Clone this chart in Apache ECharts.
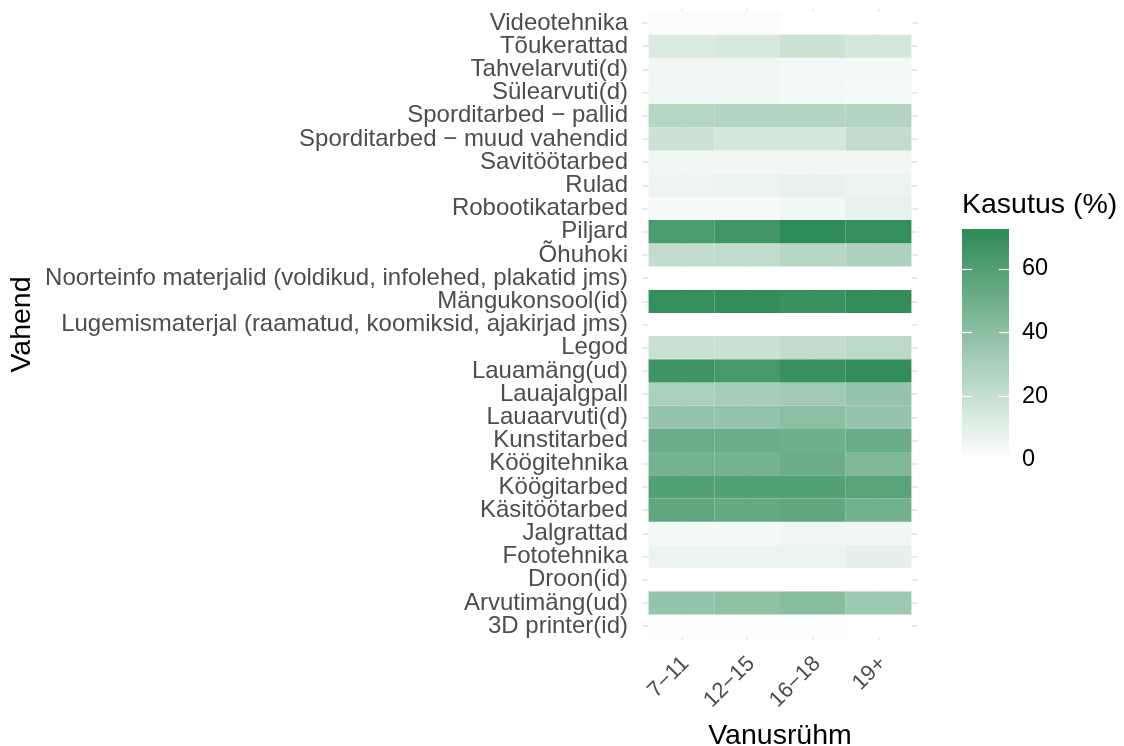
<!DOCTYPE html>
<html>
<head>
<meta charset="utf-8">
<script src="https://cdn.jsdelivr.net/npm/echarts@6/dist/echarts.min.js"></script>
<style>
  html, body { margin: 0; padding: 0; background: #ffffff; }
  #chart { width: 1124px; height: 746px; }
</style>
</head>
<body>
<div id="chart"></div>
<script>
// Age groups (columns)
const ageGroups = ['7\u221211', '12\u221215', '16\u221218', '19+'];

// Items, listed from the bottom row to the top row
const items = [
  '3D printer(id)',
  'Arvutimäng(ud)',
  'Droon(id)',
  'Fototehnika',
  'Jalgrattad',
  'Käsitöötarbed',
  'Köögitarbed',
  'Köögitehnika',
  'Kunstitarbed',
  'Lauaarvuti(d)',
  'Lauajalgpall',
  'Lauamäng(ud)',
  'Legod',
  'Lugemismaterjal (raamatud, koomiksid, ajakirjad jms)',
  'Mängukonsool(id)',
  'Noorteinfo materjalid (voldikud, infolehed, plakatid jms)',
  'Õhuhoki',
  'Piljard',
  'Robootikatarbed',
  'Rulad',
  'Savitöötarbed',
  'Sporditarbed \u2212 muud vahendid',
  'Sporditarbed \u2212 pallid',
  'Sülearvuti(d)',
  'Tahvelarvuti(d)',
  'Tõukerattad',
  'Videotehnika'
];

// Usage (%) per age group, same order as items
const usage7to11  = [1, 37, 0, 7, 4, 55, 59, 48, 51, 36, 29, 67, 19, 0, 70, 0, 21, 62, 3, 6, 5, 18, 25, 5, 5, 13, 2];
const usage12to15 = [1, 39, 0, 7, 4, 54, 59, 48, 51, 37, 31, 64, 19, 0, 71, 0, 22, 66, 3, 7, 5, 15, 26, 5, 5, 14, 2];
const usage16to18 = [1, 41, 0, 7, 5, 55, 59, 51, 50, 40, 33, 69, 21, 0, 69, 0, 25, 72, 5, 8, 5, 15, 26, 4, 4, 18, 0];
const usage19plus = [0, 34, 0, 9, 5, 49, 57, 44, 52, 36, 37, 71, 24, 0, 71, 0, 28, 70, 8, 7, 5, 21, 26, 3, 4, 15, 0];

// Colour scale limits and legend ticks
const scaleMax = 72.5;
const legendTicks = [0, 20, 40, 60];

const columns = [usage7to11, usage12to15, usage16to18, usage19plus];
const cells = [];
columns.forEach((col, c) => col.forEach((v, r) => cells.push([c, r, v])));

const FONT = "'Liberation Sans', Arial, sans-serif";
const LOW = '#ffffff';
const HIGH = '#2e8b57';

function labelAt(list) {
  return function (v) {
    const i = Math.round(v);
    return Math.abs(v - i) < 1e-6 && list[i] !== undefined ? list[i] : '';
  };
}

const chart = echarts.init(document.getElementById('chart'), null, { renderer: 'canvas' });

chart.setOption({
  backgroundColor: '#ffffff',
  animation: false,
  title: {
    text: 'Kasutus (%)',
    left: 957,
    top: 186,
    textStyle: { fontFamily: FONT, fontSize: 28.5, fontWeight: 'normal', color: '#000000' }
  },
  grid: [
    { left: 642, right: 206, top: 9, bottom: 106, outerBoundsMode: 'none', containLabel: false },
    { left: 962, width: 47, top: 229, height: 231, outerBoundsMode: 'none', containLabel: false }
  ],
  visualMap: {
    type: 'continuous',
    show: false,
    min: 0,
    max: scaleMax,
    dimension: 2,
    seriesIndex: 0,
    inRange: { color: [LOW, HIGH] }
  },
  xAxis: [
    {
      type: 'value',
      gridIndex: 0,
      min: -0.6,
      max: 3.6,
      minInterval: 1,
      maxInterval: 1,
      axisLine: { show: false },
      axisTick: { show: false },
      splitLine: { show: true, showMinLine: false, showMaxLine: false, lineStyle: { color: '#ebebeb', width: 2 } },
      axisLabel: {
        formatter: labelAt(ageGroups),
        rotate: 45,
        align: 'right',
        verticalAlign: 'top',
        lineHeight: 12,
        margin: 16,
        showMinLabel: false,
        showMaxLabel: false,
        fontFamily: FONT,
        fontSize: 22,
        color: '#4d4d4d'
      },
      name: 'Vanusrühm',
      nameLocation: 'middle',
      nameGap: 82,
      nameTextStyle: { fontFamily: FONT, fontSize: 28.5, color: '#000000' }
    },
    {
      type: 'category',
      gridIndex: 1,
      data: [''],
      show: false
    }
  ],
  yAxis: [
    {
      type: 'value',
      gridIndex: 0,
      min: -0.6,
      max: 26.6,
      minInterval: 1,
      maxInterval: 1,
      axisLine: { show: false },
      axisTick: { show: false },
      splitLine: { show: true, showMinLine: false, showMaxLine: false, lineStyle: { color: '#ebebeb', width: 2 } },
      axisLabel: {
        formatter: labelAt(items),
        margin: 14,
        padding: [6, 0, 0, 0],
        showMinLabel: false,
        showMaxLabel: false,
        fontFamily: FONT,
        fontSize: 24,
        color: '#4d4d4d'
      },
      name: 'Vahend',
      nameLocation: 'middle',
      nameRotate: 90,
      nameGap: 605,
      nameTextStyle: { fontFamily: FONT, fontSize: 28.5, color: '#000000' }
    },
    {
      type: 'value',
      gridIndex: 1,
      position: 'left',
      min: 0,
      max: scaleMax,
      z: 10,
      axisLine: { show: false },
      axisTick: { show: true, inside: true, length: 10, customValues: [20, 40, 60], lineStyle: { color: '#ffffff', width: 1.2 } },
      axisLabel: { show: false },
      splitLine: { show: false }
    },
    {
      type: 'value',
      gridIndex: 1,
      position: 'right',
      min: 0,
      max: scaleMax,
      z: 10,
      axisLine: { show: false },
      axisTick: { show: true, inside: true, length: 10, customValues: [20, 40, 60], lineStyle: { color: '#ffffff', width: 1.2 } },
      axisLabel: {
        customValues: legendTicks,
        margin: 13,
        padding: [4, 0, 0, 0],
        fontFamily: FONT,
        fontSize: 23.5,
        color: '#000000'
      },
      splitLine: { show: false }
    }
  ],
  series: [
    {
      type: 'custom',
      xAxisIndex: 0,
      yAxisIndex: 0,
      encode: { x: 0, y: 1 },
      data: cells,
      renderItem: function (params, api) {
        const x = api.value(0);
        const y = api.value(1);
        const p0 = api.coord([x - 0.5, y + 0.5]);
        const p1 = api.coord([x + 0.5, y - 0.5]);
        return {
          type: 'rect',
          shape: { x: p0[0], y: p0[1], width: p1[0] - p0[0], height: p1[1] - p0[1] },
          style: { fill: api.visual('color'), stroke: null }
        };
      }
    },
    {
      type: 'bar',
      xAxisIndex: 1,
      yAxisIndex: 2,
      data: [scaleMax],
      barWidth: '100%',
      itemStyle: {
        color: new echarts.graphic.LinearGradient(0, 0, 0, 1, [
          { offset: 0, color: HIGH },
          { offset: 1, color: LOW }
        ])
      },
      silent: true
    }
  ]
});
</script>
</body>
</html>
